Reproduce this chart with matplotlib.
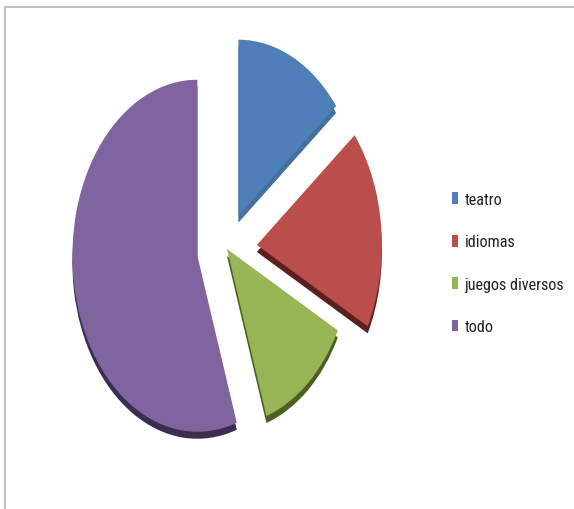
import matplotlib
matplotlib.use("Agg")
import matplotlib.pyplot as plt
from matplotlib.patches import Rectangle

# data
labels = ["teatro", "idiomas", "juegos diversos", "todo"]
values = [7, 9, 6, 27]

# styling
colors = ["#4F7FB8", "#B94E4B", "#98B556", "#8064A0"]
side_colors = ["#44709F", "#5A2020", "#4C5F22", "#3C2D50"]
explode = [0.21, 0.24, 0.0, 0.24]

W, H = 574, 510
fig = plt.figure(figsize=(W / 100, H / 100), dpi=100)
ax = fig.add_axes([0, 0, 1, 1])

# pixel -> data mapping: pie centre at (227, 250) px, radii 125 px (x) and 176 px (y)
cx, cy, rx, ry = 227, 250, 125, 176

# 3D side of the slices: darker copy shifted down
ax.pie(values, colors=side_colors, explode=explode, startangle=90,
       counterclock=False, center=(0, -7 / ry),
       wedgeprops=dict(linewidth=0))
wedges, _ = ax.pie(values, colors=colors, explode=explode, startangle=90,
                   counterclock=False, wedgeprops=dict(linewidth=0))

ax.set_aspect("auto")
ax.set_xlim(-cx / rx, (W - cx) / rx)
ax.set_ylim((cy - H) / ry, cy / ry)
ax.axis("off")

leg = fig.legend(wedges, labels, loc="upper left",
                 bbox_to_anchor=(452 / W, 1 - 193 / H), frameon=False,
                 prop=dict(family=["Liberation Sans Narrow", "Roboto Condensed",
                                   "DejaVu Sans Condensed", "Lato"],
                           stretch="condensed", size=11.6),
                 handlelength=0.38, handleheight=0.75,
                 handletextpad=0.4, labelspacing=1.7, borderpad=0,
                 borderaxespad=0)
for t in leg.get_texts():
    t.set_color("#222222")

# chart area border (cut at right and bottom)
fig.patches.append(Rectangle((5 / W, -0.1), 1.2, 1 - 8 / H + 0.1,
                             transform=fig.transFigure, fill=False,
                             edgecolor="#B4B4B4", linewidth=1.2))

fig.savefig("out.png", dpi=100)
